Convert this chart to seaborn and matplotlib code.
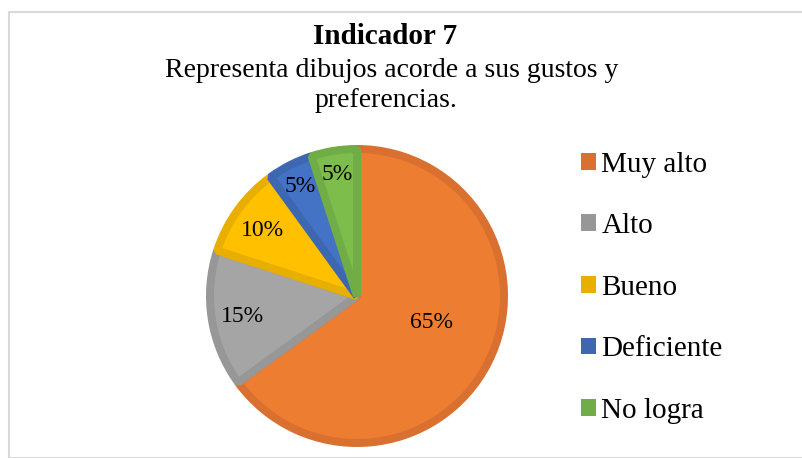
import matplotlib.pyplot as plt
import matplotlib.patches as mpatches
import seaborn as sns
import numpy as np

categorias = ['Muy alto', 'Alto', 'Bueno', 'Deficiente', 'No logra']
porcentajes = [65, 15, 10, 5, 5]
relleno = ['#ED7D31', '#A5A5A5', '#FFC000', '#4472C4', '#7CBD4C']
borde = ['#D9702F', '#979797', '#E8AF00', '#3E67B2', '#70AD47']
etiquetas = [f'{p}%' for p in porcentajes]

sns.set_theme(style='white')
plt.rcParams['font.family'] = ['Liberation Serif', 'DejaVu Serif']
plt.rcParams['text.color'] = 'black'

W, H = 802, 458
fig = plt.figure(figsize=(W / 100, H / 100), dpi=100)
fig.patch.set_facecolor('white')

# marco gris claro
fig.patches.append(mpatches.Rectangle((9 / W, 0), 1, 1 - 12 / H, transform=fig.transFigure,
                                      fill=False, edgecolor='#D9D9D9', linewidth=1.5))

# pie: centro (357,296), radio 151 px
cx, cy, r = 357, 296, 151
ax = fig.add_axes([(cx - r) / W, (H - cy - r) / H, 2 * r / W, 2 * r / H])
lw_px = 8
wedges, _ = ax.pie(porcentajes, colors=relleno, startangle=90, counterclock=False,
                   radius=1 - (lw_px / 2) / r,
                   wedgeprops=dict(linewidth=lw_px * 0.72, joinstyle='bevel'))
for w, c in zip(wedges, borde):
    w.set_edgecolor(c)
    w.set_clip_on(False)
ax.set_xlim(-1, 1)
ax.set_ylim(-1, 1)
ax.set_aspect('equal')
ax.axis('off')

# etiquetas de porcentaje
dist = [0.52, 0.77, 0.77, 0.83, 0.83]
ajuste = [9, 0, 0, 0, 0]
for w, t, d, a in zip(wedges, etiquetas, dist, ajuste):
    ang = np.deg2rad((w.theta1 + w.theta2) / 2 + a)
    ax.text(d * np.cos(ang), d * np.sin(ang), t, ha='center', va='center_baseline',
            fontsize=17, color='black')

# títulos
fig.text(385 / W, 1 - 44 / H, 'Indicador 7', ha='center', va='baseline',
         fontsize=21, fontweight='bold')
fig.text(392 / W, 1 - 77 / H, 'Representa dibujos acorde a sus gustos y',
         ha='center', va='baseline', fontsize=20)
fig.text(386 / W, 1 - 107 / H, 'preferencias.', ha='center', va='baseline', fontsize=20)

# leyenda
handles = [mpatches.Patch(facecolor=c, edgecolor='none') for c in borde]
fig.legend(handles, categorias, loc='upper left', bbox_to_anchor=(569 / W, 1 - 140 / H),
           frameon=False, fontsize=21, handlelength=0.51, handleheight=0.51,
           handletextpad=0.2, labelspacing=1.22, borderaxespad=0)

fig.savefig('out.png', dpi=100)
